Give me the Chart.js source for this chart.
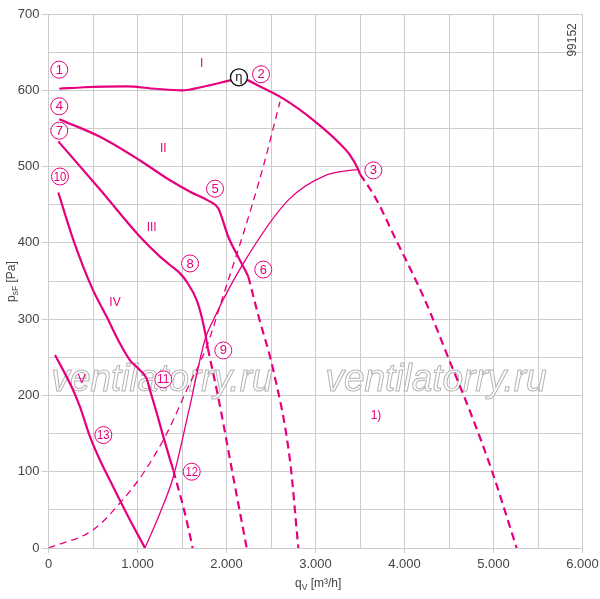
<!DOCTYPE html>
<html>
<head>
<meta charset="utf-8">
<script src="https://cdn.jsdelivr.net/npm/chart.js@4/dist/chart.umd.min.js"></script>
<style>
html,body{margin:0;padding:0;background:#fff;}
canvas{display:block;}
</style>
</head>
<body>
<canvas id="c" width="600" height="599"></canvas>
<script>
// ---- data (q_V [m³/h], p_sF [Pa]) ----
const curveI      = [[121,602],[400,604],[879,605],[1200,602],[1497,600],[1750,605],[2039,613],[2152,616],[2376,605],[2638,589],[2975,561],[3275,530],[3388,515],[3481,496],[3500,490]];
const curveIDash  = [[3500,490],[3669,460],[3900,405],[4230,325],[4511,244],[4750,175],[4980,102],[5260,0]];
const curveII     = [[121,562],[579,539],[1028,508],[1365,482],[1590,467],[1815,454],[1908,445],[2020,408],[2152,377],[2245,356]];
const curveIIDash = [[2245,356],[2357,305],[2526,233],[2713,115],[2807,0]];
const curveIII    = [[110,533],[579,470],[1028,408],[1253,382],[1365,371],[1478,360],[1553,349],[1665,325],[1721,303],[1760,282],[1790,262]];
const curveIIIDash= [[1790,262],[1927,186],[2076,93],[2227,0]];
const curveIV     = [[110,466],[279,404],[485,342],[654,303],[803,268],[916,246],[1028,233],[1103,222],[1140,207],[1216,177],[1290,146],[1402,102]];
const curveIVDash = [[1402,102],[1534,45],[1620,0]];
const curveV      = [[73,253],[261,211],[354,185],[466,146],[579,115],[728,80],[879,45],[1084,0]];
const effCurve    = [[1084,0],[1253,46],[1402,93],[1579,181],[1758,273],[1852,299],[2189,373],[2694,456],[3125,489],[3388,495],[3481,496]];
const systemCurve = [[0,0],[504,24],[803,59],[1065,98],[1328,150],[1553,207],[1777,264],[1983,338],[2189,412],[2413,500],[2601,585]];

const xTicks = [0,1000,2000,3000,4000,5000,6000];
const yTicks = [0,100,200,300,400,500,600,700];

const circleLabels = [['1',121,627],['2',2388,621],['3',3650,495],['4',121,579],['5',1871,471],['6',2413,365],['7',121,547],['8',1590,373],['9',1964,259],['10',129,487],['11',1290,221],['12',1609,100],['13',616,148]];
const etaLabel = ['η',2140,617];
const romanLabels = [['I',1721,635],['II',1290,524],['III',1159,420],['IV',747,321],['V',373,220]];
const noteLabel = ['1)',3680,174];
const codeLabel = ['99152',5885,666];
const watermark = ['ventilatorry.ru',[[1275,220],[4354,220]]];

// ---- styling ----
const MAG = '#e6007e';
const GRID = '#cccccc';
const TXT = '#444444';
const FONT = '"Liberation Sans", Arial, sans-serif';

const toXY = a => a.map(p => ({x:p[0], y:p[1]}));
function ds(data, width, dash){
  return {data: toXY(data), borderColor: MAG, borderWidth: width, borderDash: dash || [],
          pointRadius: 0, fill: false, cubicInterpolationMode: 'monotone'};
}
const THICK = 2.2, THIN = 1.3;

const labelsPlugin = {
  id: 'labels',
  beforeDatasetsDraw(chart){
    const c = chart.ctx, xs = chart.scales.x, ys = chart.scales.y;
    const ca = chart.chartArea;
    c.save();
    c.beginPath(); c.rect(ca.left, ca.top, ca.right-ca.left, ca.bottom-ca.top); c.clip();
    c.font = 'italic 38px ' + FONT;
    const w = c.measureText(watermark[0]).width;
    const sx = 221 / w;
    watermark[1].forEach(p => {
      c.save();
      c.translate(xs.getPixelForValue(p[0]), ys.getPixelForValue(p[1]));
      c.scale(sx, 1);
      c.textAlign = 'center'; c.textBaseline = 'middle';
      c.fillStyle = 'rgba(255,255,255,0.85)';
      c.fillText(watermark[0], 0, 0);
      c.strokeStyle = '#b4b4b4'; c.lineWidth = 1 / sx;
      c.strokeText(watermark[0], 0, 0);
      c.restore();
    });
    c.restore();
  },
  afterDatasetsDraw(chart){
    const c = chart.ctx, xs = chart.scales.x, ys = chart.scales.y;
    c.save();
    c.textAlign = 'center'; c.textBaseline = 'middle';
    circleLabels.forEach(l => {
      const px = xs.getPixelForValue(l[1]), py = ys.getPixelForValue(l[2]);
      c.beginPath(); c.arc(px, py, 8.5, 0, Math.PI*2);
      c.fillStyle = '#fff'; c.fill();
      c.strokeStyle = MAG; c.lineWidth = 1; c.stroke();
      c.fillStyle = MAG;
      c.font = '13px ' + FONT;
      const tw = c.measureText(l[0]).width;
      c.save(); c.translate(px, py + 0.5);
      if (tw > 12.5) c.scale(12.5 / tw, 1);
      c.fillText(l[0], 0, 0);
      c.restore();
    });
    {
      const px = xs.getPixelForValue(etaLabel[1]), py = ys.getPixelForValue(etaLabel[2]);
      c.beginPath(); c.arc(px, py, 8.5, 0, Math.PI*2);
      c.fillStyle = '#fff'; c.fill();
      c.strokeStyle = '#111'; c.lineWidth = 1.3; c.stroke();
      c.fillStyle = '#111'; c.font = '13px ' + FONT;
      c.fillText(etaLabel[0], px, py);
    }
    c.fillStyle = MAG; c.font = '12px ' + FONT;
    romanLabels.forEach(l => c.fillText(l[0], xs.getPixelForValue(l[1]), ys.getPixelForValue(l[2])));
    c.fillText(noteLabel[0], xs.getPixelForValue(noteLabel[1]), ys.getPixelForValue(noteLabel[2]));
    c.save();
    c.translate(xs.getPixelForValue(codeLabel[1]), ys.getPixelForValue(codeLabel[2]));
    c.rotate(-Math.PI/2);
    c.fillStyle = TXT; c.font = '12px ' + FONT;
    c.fillText(codeLabel[0], 0, 0);
    c.restore();
    c.restore();
  },
  afterDraw(chart){
    const c = chart.ctx;
    c.save();
    c.fillStyle = TXT; c.textBaseline = 'alphabetic'; c.textAlign = 'left';
    c.save();
    c.translate(15, 302);
    c.rotate(-Math.PI/2);
    c.font = '12px ' + FONT; c.fillText('p', 0, 0);
    let w = c.measureText('p').width;
    c.font = '8.5px ' + FONT; c.fillText('sF', w, 3);
    w += c.measureText('sF').width;
    c.font = '12px ' + FONT; c.fillText(' [Pa]', w, 0);
    c.restore();
    c.save();
    c.translate(295, 587);
    c.font = '12px ' + FONT; c.fillText('q', 0, 0);
    w = c.measureText('q').width;
    c.font = '8.5px ' + FONT; c.fillText('V', w, 3);
    w += c.measureText('V').width;
    c.font = '12px ' + FONT; c.fillText(' [m³/h]', w, 0);
    c.restore();
    c.restore();
  }
};

const fmtThousand = v => v === 0 ? '0' : (v/1000).toFixed(0) + '.000';

new Chart(document.getElementById('c'), {
  type: 'line',
  data: {
    datasets: [
      ds(systemCurve, THIN, [7,5]),
      ds(effCurve, THIN),
      ds(curveI, THICK), ds(curveIDash, THICK, [8,5]),
      ds(curveII, THICK), ds(curveIIDash, THICK, [8,5]),
      ds(curveIII, THICK), ds(curveIIIDash, THICK, [8,5]),
      ds(curveIV, THICK), ds(curveIVDash, THICK, [8,5]),
      ds(curveV, THICK)
    ]
  },
  options: {
    responsive: false,
    animation: false,
    devicePixelRatio: 1,
    layout: {padding: {left: 0, right: 17.5, top: 14, bottom: 0}},
    plugins: {legend: {display: false}, tooltip: {enabled: false}},
    scales: {
      x: {
        type: 'linear', min: 0, max: 6000,
        afterFit: s => { s.height = 51; s.paddingRight = 0; s.paddingLeft = 0; },
        ticks: {
          stepSize: 500, autoSkip: false, maxRotation: 0, padding: 4,
          color: TXT, font: {family: FONT, size: 13},
          callback: v => xTicks.includes(v) ? fmtThousand(v) : ''
        },
        grid: {color: GRID, lineWidth: 1, tickLength: 5,
               tickColor: ctx => (ctx.tick && xTicks.includes(ctx.tick.value)) ? GRID : 'rgba(0,0,0,0)'},
        border: {color: GRID}
      },
      y: {
        min: 0, max: 700,
        afterFit: s => { s.width = 48.5; s.paddingTop = 0; s.paddingBottom = 0; },
        ticks: {
          stepSize: 50, autoSkip: false, padding: 2,
          color: TXT, font: {family: FONT, size: 13},
          callback: v => yTicks.includes(v) ? String(v) : ''
        },
        grid: {color: GRID, lineWidth: 1, tickLength: 7,
               tickColor: ctx => (ctx.tick && yTicks.includes(ctx.tick.value)) ? GRID : 'rgba(0,0,0,0)'},
        border: {color: GRID}
      }
    }
  },
  plugins: [labelsPlugin]
});
</script>
</body>
</html>
